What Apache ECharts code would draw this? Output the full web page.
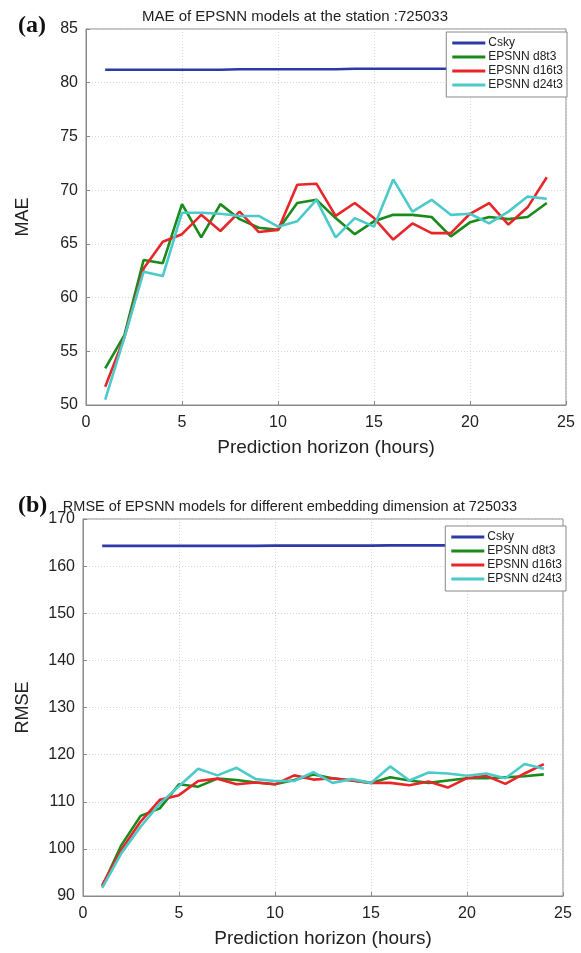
<!DOCTYPE html>
<html>
<head>
<meta charset="utf-8">
<script src="https://cdn.jsdelivr.net/npm/echarts@6/dist/echarts.min.js"></script>
<style>html,body{margin:0;padding:0;background:#fff}#c{width:581px;height:953px}</style>
</head>
<body>
<div id="c"></div>
<script>
var hours = [1,2,3,4,5,6,7,8,9,10,11,12,13,14,15,16,17,18,19,20,21,22,23,24];
var seriesNames = ['Csky','EPSNN d8t3','EPSNN d16t3','EPSNN d24t3'];
var xTicks = [0,5,10,15,20,25];

// (a) MAE
var maeCsky  = [81.2,81.2,81.2,81.2,81.2,81.2,81.2,81.25,81.25,81.25,81.25,81.25,81.25,81.3,81.3,81.3,81.3,81.3,81.3,81.3,81.3,81.35,81.35,81.35];
var maeD8    = [53.4,56.5,63.5,63.2,68.7,65.6,68.7,67.3,66.5,66.3,68.8,69.1,67.4,65.9,67.1,67.7,67.7,67.5,65.7,67.0,67.5,67.3,67.5,68.8];
var maeD16   = [51.7,56.3,62.7,65.2,65.9,67.7,66.2,68.0,66.1,66.3,70.5,70.6,67.6,68.8,67.4,65.4,66.9,66.0,66.0,67.8,68.8,66.8,68.4,71.2];
var maeD24   = [50.5,56.3,62.4,62.0,67.9,67.9,67.8,67.6,67.6,66.6,67.1,69.1,65.6,67.4,66.6,71.0,68.0,69.1,67.7,67.8,66.9,68.0,69.4,69.2];

// (b) RMSE
var rmseCsky = [164.3,164.3,164.3,164.3,164.3,164.3,164.3,164.3,164.3,164.35,164.35,164.35,164.35,164.35,164.35,164.4,164.4,164.4,164.4,164.4,164.4,164.4,164.4,164.4];
var rmseD8   = [92.0,100.8,107.0,108.6,113.7,113.2,114.9,114.6,114.1,113.7,114.6,115.8,115.0,114.5,114.0,115.2,114.5,114.0,114.5,115.0,115.0,115.2,115.4,115.8];
var rmseD16  = [92.3,99.8,105.8,110.4,111.4,114.4,114.9,113.7,114.1,113.7,115.6,114.7,115.0,114.5,114.0,114.0,113.5,114.3,113.0,115.0,115.5,113.8,116.0,118.0];
var rmseD24  = [91.7,99.1,104.7,109.6,113.3,117.0,115.6,117.2,114.8,114.4,114.4,116.3,114.0,114.8,114.0,117.5,114.5,116.2,116.0,115.5,116.0,115.0,118.0,117.0];

var colors = ['#2b3aa8','#1a8a1a','#e8262a','#4cc9c9'];

function pairs(v){ return hours.map(function(h,i){ return [h, v[i]]; }); }

var font = 'Liberation Sans, Arial, sans-serif';

function xAxis(gi){
  return {
    gridIndex: gi, type:'value', min:0, max:25, interval:5,
    axisLine:{show:true, lineStyle:{color:'#8a8a8a', width:1}},
    axisTick:{show:true, inside:true, length:4, lineStyle:{color:'#8a8a8a'}},
    axisLabel:{color:'#222', fontSize:16, fontFamily:font, margin:10,
      formatter:function(v){ return xTicks.indexOf(v) >= 0 ? String(v) : ''; }},
    splitLine:{show:true, lineStyle:{color:'#d6d6d6', type:[1,2], width:1}},
    name:'Prediction horizon (hours)', nameLocation:'middle', nameGap:33,
    nameTextStyle:{color:'#222', fontSize:19, fontFamily:font}
  };
}
function yAxis(gi, mn, mx, iv, nm, gap){
  return {
    gridIndex: gi, type:'value', min:mn, max:mx, interval:iv,
    axisLine:{show:true, lineStyle:{color:'#8a8a8a', width:1}},
    axisTick:{show:true, inside:true, length:4, lineStyle:{color:'#8a8a8a'}},
    axisLabel:{color:'#222', fontSize:16, fontFamily:font, margin:8},
    splitLine:{show:true, lineStyle:{color:'#d6d6d6', type:[1,2], width:1}},
    name:nm, nameLocation:'middle', nameGap:gap, nameRotate:90,
    nameTextStyle:{color:'#222', fontSize:18, fontFamily:font}
  };
}
function line(name, data, ci, xi, yi){
  return {
    name:name, type:'line', data:pairs(data), xAxisIndex:xi, yAxisIndex:yi,
    showSymbol:false, symbol:'none', lineStyle:{color:colors[ci], width:2.6}, itemStyle:{color:colors[ci]},
    z: 2 + ci, animation:false
  };
}

var legendBase = {
  orient:'vertical', data:seriesNames, icon:'rect', itemWidth:33, itemHeight:3, itemGap:2,
  backgroundColor:'#fff', borderColor:'#888', borderWidth:1, borderRadius:0,
  padding:[5,4,6,6],
  textStyle:{color:'#222', fontSize:12, fontFamily:font, lineHeight:12, padding:[0,0,0,-2]}
};

var chart = echarts.init(document.getElementById('c'), null, {renderer:'canvas'});
chart.setOption({
  animation:false,
  backgroundColor:'#fff',
  title:[
    {text:'MAE of EPSNN models at the station :725033', left:290, top:4, textAlign:'center',
     textStyle:{fontSize:15, fontWeight:'normal', color:'#222', fontFamily:font}},
    {text:'(a)', left:13, top:9, textStyle:{fontSize:24, fontWeight:'bold', color:'#111', fontFamily:'Liberation Serif, Times New Roman, serif'}},
    {text:'RMSE of EPSNN models for different embedding dimension at 725033', left:285, top:494, textAlign:'center',
     textStyle:{fontSize:14.5, fontWeight:'normal', color:'#222', fontFamily:font}},
    {text:'(b)', left:13, top:489, textStyle:{fontSize:24, fontWeight:'bold', color:'#111', fontFamily:'Liberation Serif, Times New Roman, serif'}}
  ],
  legend:[
    Object.assign({}, legendBase, {right:14, top:32}),
    Object.assign({}, legendBase, {right:15, top:526})
  ],
  grid:[
    {left:86, right:15, top:29, height:376, show:true, borderColor:'#8a8a8a', borderWidth:1, backgroundColor:'transparent'},
    {left:83, right:18, top:519, height:377, show:true, borderColor:'#8a8a8a', borderWidth:1, backgroundColor:'transparent'}
  ],
  xAxis:[xAxis(0), xAxis(1)],
  yAxis:[yAxis(0,50,85,5,'MAE',54), yAxis(1,90,170,10,'RMSE',51)],
  series:[
    line(seriesNames[0], maeCsky, 0, 0, 0),
    line(seriesNames[1], maeD8, 1, 0, 0),
    line(seriesNames[2], maeD16, 2, 0, 0),
    line(seriesNames[3], maeD24, 3, 0, 0),
    line(seriesNames[0], rmseCsky, 0, 1, 1),
    line(seriesNames[1], rmseD8, 1, 1, 1),
    line(seriesNames[2], rmseD16, 2, 1, 1),
    line(seriesNames[3], rmseD24, 3, 1, 1)
  ]
});
</script>
</body>
</html>
